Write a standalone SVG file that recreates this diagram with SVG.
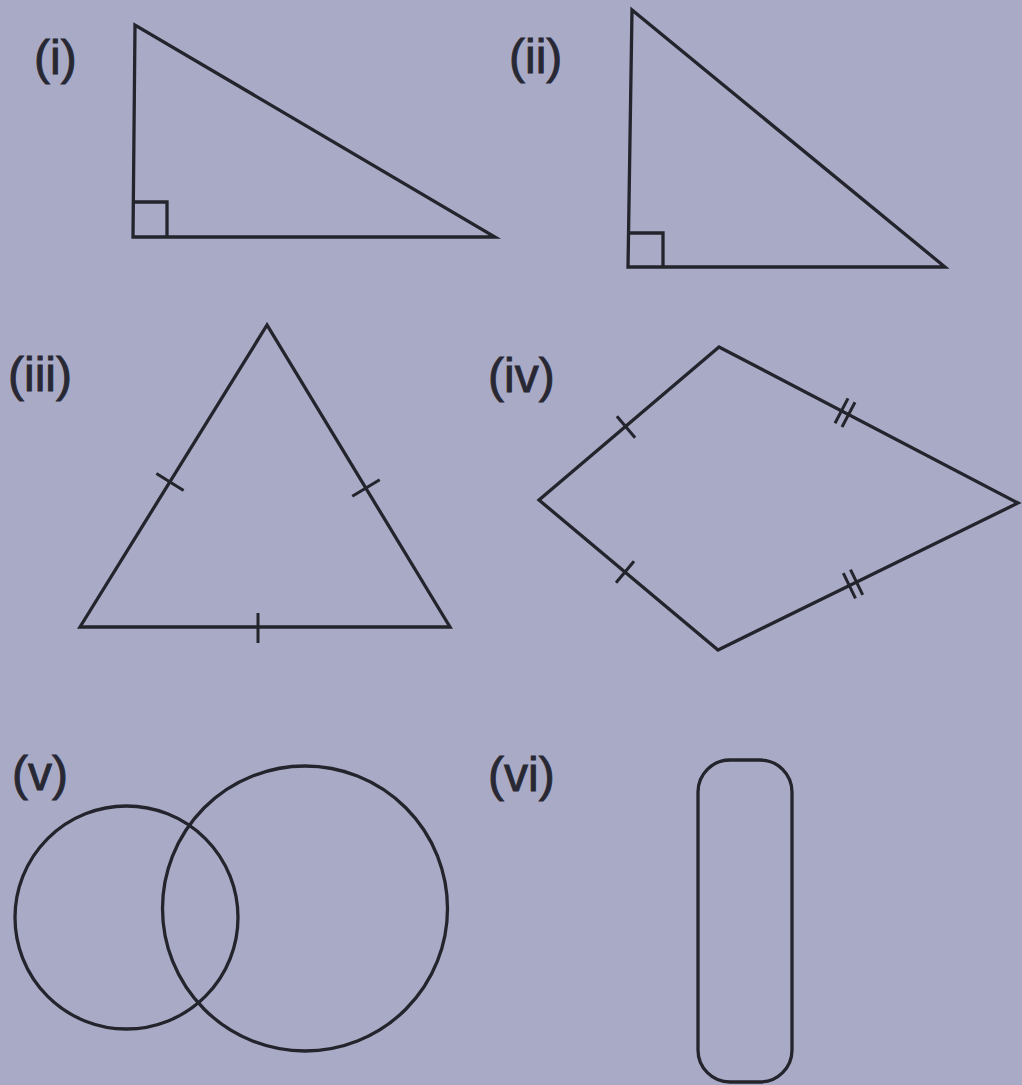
<svg xmlns="http://www.w3.org/2000/svg" width="1022" height="1085" viewBox="0 0 1022 1085">
<style>
.s{fill:none;stroke:#24242d;stroke-width:3.3;stroke-linejoin:miter;stroke-linecap:butt}
.t{fill:none;stroke:#24242d;stroke-width:3}
.lbl{font-family:"Liberation Sans",Arial,sans-serif;font-size:48px;fill:#282834;stroke:#282834;stroke-width:0.9}
</style>
<rect width="1022" height="1085" fill="#a9aac6"/>
<g id="fig1">
<text class="lbl" x="34" y="74">(i)</text>
<polygon class="s" points="135,25 133,237 495,237"/>
<polyline class="s" points="133,202 167,202 167,237"/>
</g>
<g id="fig2">
<text class="lbl" x="509" y="73">(ii)</text>
<polygon class="s" points="632,10 628,267 945,267"/>
<polyline class="s" points="628,233 663,233 663,267"/>
</g>
<g id="fig3">
<text class="lbl" x="8" y="391">(iii)</text>
<polygon class="s" points="267,325 80,627 450,627"/>
<line class="t" x1="156.4" y1="473.5" x2="183.6" y2="490.5"/>
<line class="t" x1="352.3" y1="496.3" x2="379.7" y2="479.7"/>
<line class="t" x1="258" y1="613" x2="258" y2="643"/>
</g>
<g id="fig4">
<text class="lbl" x="488" y="392">(iv)</text>
<polygon class="s" points="719,347 1018,503 718,650 539,500"/>
<line class="t" x1="616.9" y1="416.3" x2="635.1" y2="437.7"/>
<line class="t" x1="634" y1="561.2" x2="616" y2="582.8"/>
<line class="t" x1="848" y1="398.4" x2="835" y2="423.2"/>
<line class="t" x1="855" y1="402.2" x2="842" y2="427"/>
<line class="t" x1="843.3" y1="573.2" x2="855.5" y2="598.4"/>
<line class="t" x1="850.5" y1="569.6" x2="862.7" y2="594.8"/>
</g>
<g id="fig5">
<text class="lbl" x="12" y="790">(v)</text>
<circle class="s" cx="126.5" cy="917.5" r="111.5"/>
<circle class="s" cx="305" cy="908.5" r="142.5"/>
</g>
<g id="fig6">
<text class="lbl" x="488" y="791">(vi)</text>
<rect class="s" x="698" y="760" width="94" height="322" rx="32" ry="32"/>
</g>
<g id="connectors"/>
</svg>
